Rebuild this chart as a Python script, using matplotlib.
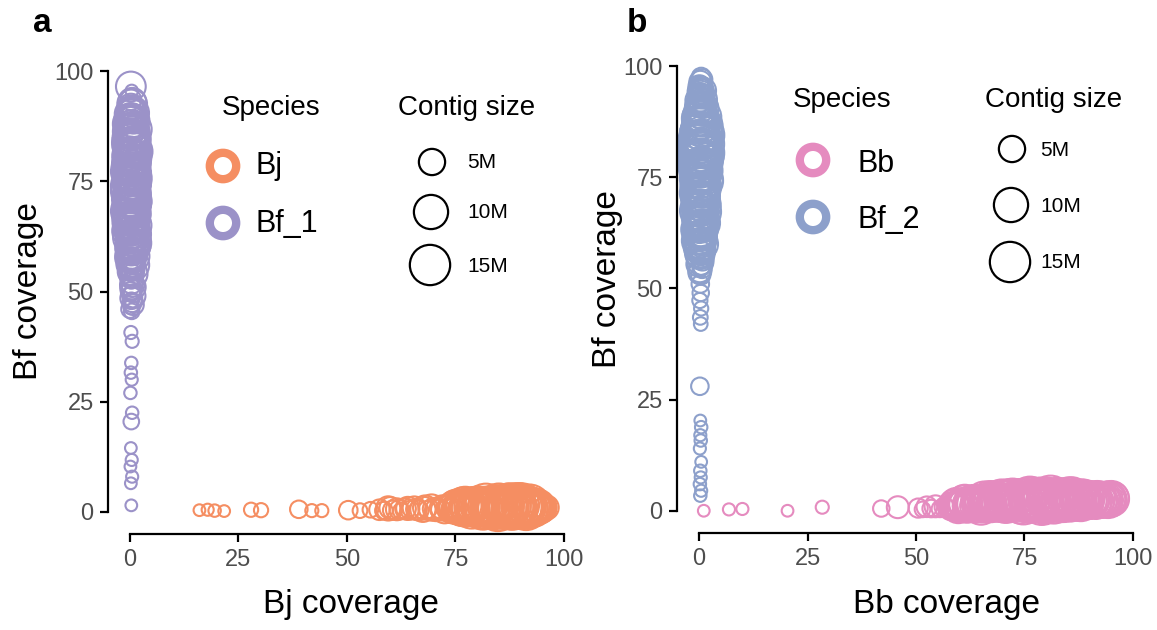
import numpy as np
import matplotlib.pyplot as plt

plt.rcParams['font.family'] = ['Liberation Sans', 'DejaVu Sans']

# ---- panel a: Bj vs Bf_1 -------------------------------------------------
# Bj contigs: x = Bj coverage, y = Bf coverage, size in Mb
bj_x = [16.0, 17.9, 19.5, 21.7, 27.9, 30.2, 38.9, 41.9, 44.2, 50.3, 53.0, 55.4,
        57.5, 58.5, 59.5, 60.5, 61.5, 62.5, 63.5, 64.5, 65.5, 66.5, 67.5, 68.5,
        69.5, 70.5, 71.5, 72.5, 73.5, 74.5, 75.5, 76.5, 77.5, 78.5, 79.5, 80.5,
        81.5, 82.5, 83.5, 84.5, 85.5, 86.5, 87.5, 88.5, 89.5, 90.5, 91.5, 92.5,
        93.5, 94.5, 95.5,
        60, 62, 64, 66, 68, 70, 72, 74, 76, 77, 78, 79, 80, 81, 82, 83, 84, 85,
        86, 87, 88, 89, 90, 91, 92, 93, 94, 95, 96]
bj_y = [0.4, 0.5, 0.3, 0.2, 0.5, 0.4, 0.6, 0.3, 0.3, 0.4, 0.3, 0.5,
        0.5, 0.3, 0.8, 0.4, 0.6, 0.2, 0.7, 0.4, 0.9, 0.3, 0.6, 0.5,
        1.0, 0.4, 0.7, 0.5, 0.8, 0.3, 1.0, 0.6, 1.2, 0.5, 0.9, 1.3,
        0.7, 1.1, 0.6, 1.4, 0.8, 1.2, 0.5, 1.5, 0.9, 1.3, 0.7, 1.1,
        0.6, 1.0, 0.8,
        0.9, 0.5, 0.8, 0.6, 1.0, 0.7, 0.9, 0.8, 1.3, 0.9, 1.5, 0.7, 1.2, 0.8, 1.6, 1.0, 0.6, 1.4,
        0.9, 1.7, 1.1, 0.7, 1.5, 1.0, 1.3, 0.8, 1.2, 0.9, 1.0]
bj_size = [0.3, 0.35, 0.4, 0.3, 0.7, 0.7, 1.5, 0.5, 0.5, 1.8, 0.8, 1.0,
           2.5, 1.5, 4.0, 2.0, 3.0, 1.2, 2.5, 1.8, 3.5, 2.2, 4.5, 1.5,
           5.0, 3.0, 2.0, 5.5, 2.5, 4.0, 8.0, 6.0, 10, 7.0, 12, 9.0,
           14, 8.0, 11, 15, 10, 17, 12, 18, 13, 16, 11, 14,
           8.0, 5.0, 3.0,
           3.0, 2.0, 3.5, 2.5, 4.0, 3.0, 4.5, 6.0, 9.0, 12, 11, 8.0, 15, 11, 17, 13, 12, 19,
           14, 16, 20, 15, 19, 16, 18, 12, 10, 6.0, 4.0]
# Bj contigs in the crowded high-coverage block
bj_core_x = [74.25, 75.25, 76.25, 77.25, 78.25, 79.25, 80.25, 81.25, 82.25, 83.25, 84.25,
             85.25, 86.25, 87.25, 88.25, 89.25, 90.25, 91.25, 92.25, 93.25, 94.25, 95.25,
             74.75, 75.75, 76.75, 77.75, 78.75, 79.75, 80.75, 81.75, 82.75, 83.75, 84.75,
             85.75, 86.75, 87.75, 88.75, 89.75, 90.75, 91.75, 92.75, 93.75, 94.75]
bj_core_y = [0.8, 1.2, 0.6, 1.4, 0.9, 1.1, 1.6, 0.7, 1.3, 1.0, 1.5,
             0.8, 1.2, 1.4, 0.9, 1.6, 1.1, 0.7, 1.3, 1.0, 0.8, 1.1,
             1.1, 0.7, 1.4, 1.0, 0.8, 1.5, 1.2, 0.9, 1.6, 1.1, 0.7,
             1.4, 1.0, 1.3, 0.8, 1.2, 1.5, 0.9, 1.1, 1.3, 0.9]
bj_core_size = [7, 10, 9, 13, 11, 14, 12, 16, 13, 17, 15,
                18, 14, 19, 16, 18, 15, 17, 13, 11, 8, 5,
                9, 8, 12, 10, 15, 12, 13, 17, 12, 16, 19,
                14, 17, 20, 15, 19, 16, 14, 12, 9, 7]

# Bf_1 contigs
bf1_x = [0.3, 0.2, 0.5, 0.1, 0.4, 0.2, 0.3, 0.5, 0.1, 0.4, 0.2, 0.3, 0.5, 0.2,
         0.4, 0.2, 0.5, 0.3, 0.6, 0.2, 0.5, 0.3, 0.4, 0.2, 0.6, 0.3, 0.5, 0.2,
         0.4, 0.6, 0.3, 0.5, 0.2, 0.4, 0.6, 0.3, 0.5, 0.2, 0.4, 0.6, 0.3, 0.5,
         0.2, 0.4, 0.6, 0.3, 0.5, 0.2, 0.4, 0.6, 0.3, 0.5, 0.2, 0.4, 0.6, 0.3,
         0.5, 0.2, 0.4, 0.6, 0.3, 0.5, 0.2, 0.4, 0.2,
         0.0, 0.8, 0.3, 0.9, 0.1, 0.7, 0.4, 0.0, 0.8, 0.2, 0.9, 0.1, 0.7, 0.3, 0.0, 0.8,
         0.2, 0.9, 0.1, 0.7, 0.4, 0.0, 0.8, 0.3, 0.9, 0.1, 0.7, 0.2, 0.0, 0.8, 0.3, 0.9,
         0.1, 0.7, 0.4, 0.0, 0.8, 0.2, 0.9, 0.1, 0.7, 0.3, 0.0, 0.8, 0.4, 0.6, 0.2, 0.5]
bf1_y = [1.5, 6.5, 8.0, 10.3, 11.8, 14.5, 20.5, 22.5, 27.0, 30.0, 31.6, 33.8, 38.7, 40.7,
         45.5, 46.5, 47.5, 48.5, 49.5, 50.5, 51.5, 52.5, 53.5, 54.5, 55.5, 56.5, 57.5, 58.5,
         59.5, 60.5, 61.5, 62.5, 63.5, 64.5, 65.5, 66.5, 67.5, 68.5, 69.5, 70.5, 71.5, 72.5,
         73.5, 74.5, 75.5, 76.5, 77.5, 78.5, 79.5, 80.5, 81.5, 82.5, 83.5, 84.5, 85.5, 86.5,
         87.5, 88.5, 89.5, 90.5, 91.5, 92.5, 93.5, 95.5, 96.5,
         46, 47, 48, 49, 50, 51, 52, 53, 54, 55, 56, 57, 58, 59, 60, 61,
         62, 63, 64, 65, 66, 67, 68, 69, 70, 71, 72, 73, 74, 75, 76, 77,
         78, 79, 80, 81, 82, 83, 84, 85, 86, 87, 88, 89, 90, 91, 92, 93]
bf1_size = [0.3, 0.3, 0.35, 0.3, 0.35, 0.3, 1.0, 0.4, 0.4, 0.35, 0.4, 0.4, 0.5, 0.5,
            1.0, 0.8, 2.0, 3.0, 1.5, 2.5, 4.0, 1.2, 3.5, 5.0, 2.0, 6.0, 3.0, 7.0,
            4.5, 9.0, 2.5, 8.0, 5.0, 11, 3.5, 9.5, 6.0, 12, 4.0, 13, 7.0, 12,
            5.5, 13, 9.0, 12, 6.5, 13, 8.0, 11, 4.5, 12, 7.5, 13, 5.0, 11,
            8.5, 10, 6.0, 9.0, 4.0, 7.0, 2.5, 0.4, 7.0,
            1.5, 2.5, 1.0, 3.5, 2.0, 4.5, 3.0, 2.0, 6.0, 3.5, 7.5, 4.0, 9.0, 5.5, 6.5, 11,
            7.0, 10, 6.0, 12, 8.0, 11, 9.0, 13, 10, 12, 11, 9.5, 13, 11, 12, 10,
            12, 11, 13, 9.0, 11, 12, 8.0, 11, 9.5, 7.0, 10, 6.0, 8.0, 5.5, 4.5, 6.0]
bf1_core_x = [0.6, 0.1, 0.8, 0.3, 0.0, 0.9, 0.5, 0.2, 0.7, 0.1, 0.6, 0.3, 0.9, 0.0, 0.5, 0.8, 0.2, 0.6, 0.1,
              0.7, 0.4, 0.9, 0.0, 0.6, 0.3, 0.8, 0.1, 0.5, 0.9, 0.2, 0.7, 0.0, 0.6, 0.3, 0.8, 0.1, 0.5,
              0.2, 0.7, 0.0, 0.9, 0.4, 0.1, 0.8, 0.5, 0.0, 0.6, 0.2, 0.9, 0.4, 0.7, 0.1, 0.5, 0.8, 0.0, 0.6,
              0.3, 0.9, 0.2, 0.7, 0.1, 0.5, 0.0, 0.8, 0.4, 0.1, 0.6, 0.3, 0.9, 0.2, 0.7, 0.0, 0.5, 0.3]
bf1_core_y = [55.25, 56.25, 57.25, 58.25, 59.25, 60.25, 61.25, 62.25, 63.25, 64.25, 65.25, 66.25,
              67.25, 68.25, 69.25, 70.25, 71.25, 72.25, 73.25, 74.25, 75.25, 76.25, 77.25, 78.25,
              79.25, 80.25, 81.25, 82.25, 83.25, 84.25, 85.25, 86.25, 87.25, 88.25, 89.25, 90.25, 91.25,
              55.75, 56.75, 57.75, 58.75, 59.75, 60.75, 61.75, 62.75, 63.75, 64.75, 65.75, 66.75,
              67.75, 68.75, 69.75, 70.75, 71.75, 72.75, 73.75, 74.75, 75.75, 76.75, 77.75, 78.75,
              79.75, 80.75, 81.75, 82.75, 83.75, 84.75, 85.75, 86.75, 87.75, 88.75, 89.75, 90.75, 91.75]
bf1_core_size = [4, 6, 3, 8, 5, 9, 6, 11, 7, 10, 8, 12, 9, 13, 10, 11, 12, 9, 13,
                 11, 12, 10, 13, 9, 12, 11, 10, 12, 8, 11, 9, 10, 7, 9, 6, 8, 5,
                 5, 3, 7, 4, 9, 6, 10, 5, 11, 8, 12, 7, 13, 9, 11, 12, 10, 13, 8,
                 12, 11, 13, 9, 12, 10, 11, 13, 9, 12, 10, 8, 11, 7, 9, 5, 7, 4]

# ---- panel b: Bb vs Bf_2 -------------------------------------------------
bb_x = [1.1, 6.9, 10.0, 20.4, 28.4, 42.0, 45.8,
        50.5, 51.5, 52.5, 53.5, 54.5, 55.5, 56.5, 57.5, 58.5, 59.5, 60.5, 61.5,
        62.5, 63.5, 64.5, 65.5, 66.5, 67.5, 68.5, 69.5, 70.5, 71.5, 72.5, 73.5,
        74.5, 75.5, 76.5, 77.5, 78.5, 79.5, 80.5, 81.5, 82.5, 83.5, 84.5, 85.5,
        86.5, 87.5, 88.5, 89.5, 90.5, 91.5, 92.5, 93.5, 94.5, 95.5,
        59, 60, 61, 62, 63, 64, 65, 66, 67, 68, 69, 70, 71, 72, 73, 74, 75, 76, 77,
        78, 79, 80, 81, 82, 83, 84, 85, 86, 87, 88, 89, 90, 91, 92, 93, 94, 95]
bb_y = [0.0, 0.3, 0.4, 0.0, 0.8, 0.5, 0.8,
        0.6, 0.3, 0.9, 0.5, 1.0, 0.4, 0.8, 0.5, 1.2, 1.0, 1.5, 0.8,
        1.8, 1.1, 1.6, 0.9, 2.0, 1.2, 1.7, 1.0, 1.9, 1.3, 2.2, 1.4,
        1.8, 1.1, 2.3, 1.5, 2.0, 1.2, 2.4, 1.6, 2.1, 1.3, 2.5, 1.7,
        2.2, 1.4, 2.0, 1.6, 2.3, 1.5, 2.1, 1.8, 2.6, 2.0,
        1.3, 0.8, 2.0, 1.2, 1.5, 2.2, 1.0, 1.7, 2.4, 1.4, 2.0, 1.1, 2.5, 1.6, 2.2, 1.3, 2.6, 1.5, 2.1,
        2.8, 1.7, 2.3, 2.9, 1.8, 2.5, 1.6, 2.8, 2.0, 2.4, 1.8, 2.6, 2.0, 2.5, 1.9, 2.4, 2.2, 2.7]
bb_size = [0.3, 0.35, 0.35, 0.3, 0.5, 1.2, 3.0,
           2.0, 1.0, 2.5, 1.5, 3.0, 1.2, 2.0, 1.5, 4.0, 6.0, 8.0, 5.0,
           9.0, 6.5, 10, 7.0, 11, 6.0, 9.0, 7.5, 12, 8.0, 10, 7.0,
           11, 9.0, 13, 10, 15, 12, 16, 11, 14, 10, 15, 12,
           13, 9.0, 11, 8.0, 10, 7.0, 9.0, 6.0, 8.5, 5.0,
           5.0, 7.0, 9.0, 6.0, 11, 8.0, 12, 9.0, 13, 10, 14, 9.0, 15, 11, 14, 12, 16, 10, 17,
           13, 18, 14, 19, 13, 17, 12, 16, 11, 15, 12, 13, 10, 12, 8.0, 10, 7.0, 11]
bb_core_x = [58.25, 59.25, 60.25, 61.25, 62.25, 63.25, 64.25, 65.25, 66.25, 67.25, 68.25, 69.25, 70.25,
             71.25, 72.25, 73.25, 74.25, 75.25, 76.25, 77.25, 78.25, 79.25, 80.25, 81.25, 82.25, 83.25,
             84.25, 85.25, 86.25, 87.25, 88.25, 89.25, 90.25, 91.25, 92.25, 93.25, 94.25, 95.25,
             58.75, 59.75, 60.75, 61.75, 62.75, 63.75, 64.75, 65.75, 66.75, 67.75, 68.75, 69.75, 70.75,
             71.75, 72.75, 73.75, 74.75, 75.75, 76.75, 77.75, 78.75, 79.75, 80.75, 81.75, 82.75, 83.75,
             84.75, 85.75, 86.75, 87.75, 88.75, 89.75, 90.75, 91.75, 92.75, 93.75, 94.75]
bb_core_y = [1.0, 1.6, 1.2, 2.0, 1.4, 1.8, 2.3, 1.5, 2.1, 1.7, 2.6, 1.9, 2.2,
             1.6, 2.7, 2.0, 2.4, 1.8, 2.9, 2.2, 2.5, 2.0, 2.8, 2.3, 2.6, 1.9,
             2.7, 2.1, 2.5, 2.2, 2.8, 2.0, 2.4, 2.1, 2.6, 2.3, 2.5, 2.8,
             1.4, 0.9, 1.8, 1.3, 2.1, 1.5, 1.9, 2.3, 1.6, 2.2, 1.8, 2.5, 1.4,
             2.4, 2.0, 2.7, 1.7, 2.3, 2.6, 2.0, 2.8, 2.2, 2.5, 1.9, 2.7, 2.1,
             2.4, 2.9, 2.2, 2.6, 2.0, 2.5, 2.3, 2.7, 2.1, 2.4, 2.6]
bb_core_size = [6, 8, 7, 10, 9, 11, 8, 12, 10, 13, 11, 12, 14,
                10, 15, 12, 16, 13, 17, 14, 18, 15, 16, 13, 17, 14,
                15, 12, 14, 11, 13, 10, 12, 9, 11, 10, 12, 9,
                7, 9, 6, 11, 8, 12, 10, 13, 9, 14, 11, 15, 12,
                16, 13, 14, 17, 12, 18, 15, 16, 19, 14, 17, 13, 15,
                12, 16, 11, 13, 10, 12, 9, 11, 8, 10, 9]

bf2_x = [0.3, 0.5, 0.2, 0.4, 0.3, 0.5, 0.2, 0.4, 0.3, 0.5, 0.3, 0.2, 0.4, 0.3, 0.5, 0.2, 0.4, 0.3,
         0.4, 0.2, 0.6, 0.3, 0.5, 0.2, 0.4, 0.6, 0.3, 0.5, 0.2, 0.4, 0.6, 0.3, 0.5,
         0.2, 0.4, 0.6, 0.3, 0.5, 0.2, 0.4, 0.6, 0.3, 0.5, 0.2, 0.4, 0.6, 0.3, 0.5,
         0.2, 0.4, 0.6, 0.3, 0.5, 0.2, 0.4, 0.6, 0.3, 0.5, 0.2, 0.4, 0.6, 0.3, 0.5,
         0.1, 0.7, 0.0, 0.8, 0.2, 0.9, 0.1, 0.7, 0.0, 0.8, 0.3, 0.9, 0.1, 0.7, 0.0,
         0.8, 0.2, 0.9, 0.1, 0.7, 0.0, 0.8, 0.3, 0.9, 0.1, 0.7, 0.0, 0.8, 0.2, 0.9,
         0.1, 0.7, 0.0, 0.8, 0.3, 0.9, 0.1, 0.7, 0.0, 0.8, 0.2, 0.9, 0.1, 0.7]
bf2_y = [3.4, 4.5, 6.0, 7.5, 9.0, 11.0, 14.0, 15.8, 17.0, 18.8, 20.3, 28.0, 42.0, 43.5, 45.5, 47.3, 49.0, 51.0,
         53, 54, 55, 56, 57, 58, 59, 60, 61, 62, 63, 64, 65, 66, 67,
         68, 69, 70, 71, 72, 73, 74, 75, 76, 77, 78, 79, 80, 81, 82,
         83, 84, 85, 86, 87, 88, 89, 90, 91, 92, 93, 94, 95, 96.5, 97.5,
         53.5, 54.5, 55.5, 56.5, 57.5, 58.5, 59.5, 60.5, 61.5, 62.5, 63.5, 64.5, 65.5, 66.5, 67.5,
         68.5, 69.5, 70.5, 71.5, 72.5, 73.5, 74.5, 75.5, 76.5, 77.5, 78.5, 79.5, 80.5, 81.5, 82.5,
         83.5, 84.5, 85.5, 86.5, 87.5, 88.5, 89.5, 90.5, 91.5, 92.5, 93.5, 94.5, 95.5, 97.0]
bf2_size = [0.4, 0.35, 0.4, 0.35, 0.4, 0.3, 0.35, 0.4, 0.35, 0.4, 0.3, 1.5, 0.6, 0.8, 0.7, 0.9, 1.2, 1.5,
            2.0, 3.5, 1.5, 5.0, 2.5, 7.0, 4.0, 9.0, 3.0, 6.5, 10, 4.5, 8.0, 12, 5.0,
            9.5, 6.0, 11, 3.5, 8.5, 13, 5.5, 10, 7.0, 12, 4.0, 14, 9.0, 16, 6.0,
            18, 11, 17, 8.0, 13, 5.0, 9.0, 6.5, 3.0, 5.0, 2.5, 4.0, 2.0, 3.0, 2.0,
            3.0, 2.0, 4.5, 3.0, 6.0, 4.0, 7.5, 5.0, 9.0, 6.0, 11, 7.0, 10, 8.0, 13,
            7.5, 12, 9.0, 14, 10, 12, 15, 9.0, 14, 11, 16, 12, 18, 13, 17,
            14, 19, 12, 15, 10, 12, 7.0, 9.0, 5.0, 6.5, 4.0, 5.0, 3.0, 2.5]
bf2_core_x = [0.5, 0.1, 0.8, 0.3, 0.6, 0.0, 0.9, 0.4, 0.2, 0.7, 0.0, 0.5, 0.8, 0.3, 0.1, 0.6, 0.9, 0.2, 0.4,
              0.7, 0.0, 0.5, 0.3, 0.8, 0.1, 0.6, 0.9, 0.2, 0.4, 0.7, 0.0, 0.5, 0.3, 0.8, 0.1, 0.6, 0.4, 0.2,
              0.2, 0.7, 0.0, 0.9, 0.4, 0.1, 0.6, 0.8, 0.3, 0.0, 0.5, 0.9, 0.2, 0.6, 0.4, 0.8, 0.1, 0.7, 0.3,
              0.5, 0.0, 0.9, 0.2, 0.6, 0.4, 0.8, 0.1, 0.7, 0.3, 0.5, 0.0, 0.9, 0.2, 0.6, 0.4, 0.1, 0.5]
bf2_core_y = [58.25, 59.25, 60.25, 61.25, 62.25, 63.25, 64.25, 65.25, 66.25, 67.25, 68.25, 69.25, 70.25,
              71.25, 72.25, 73.25, 74.25, 75.25, 76.25, 77.25, 78.25, 79.25, 80.25, 81.25, 82.25, 83.25,
              84.25, 85.25, 86.25, 87.25, 88.25, 89.25, 90.25, 91.25, 92.25, 93.25, 94.25, 95.25,
              58.75, 59.75, 60.75, 61.75, 62.75, 63.75, 64.75, 65.75, 66.75, 67.75, 68.75, 69.75, 70.75,
              71.75, 72.75, 73.75, 74.75, 75.75, 76.75, 77.75, 78.75, 79.75, 80.75, 81.75, 82.75, 83.75,
              84.75, 85.75, 86.75, 87.75, 88.75, 89.75, 90.75, 91.75, 92.75, 93.75, 94.75]
bf2_core_size = [5, 8, 4, 9, 6, 11, 7, 10, 8, 13, 9, 12, 10,
                 14, 11, 13, 15, 12, 16, 13, 17, 14, 18, 12, 16, 13,
                 15, 11, 13, 9, 10, 7, 8, 5, 6, 4, 5, 3,
                 7, 4, 10, 6, 9, 8, 12, 7, 11, 10, 14, 9, 13,
                 12, 15, 10, 14, 13, 17, 12, 15, 16, 19, 13, 15, 12,
                 14, 10, 12, 8, 9, 6, 7, 4, 5, 3, 4]

legend_sizes = [5, 10, 15]
legend_size_labels = ['5M', '10M', '15M']

col_bj = '#F58E62'
col_bf1 = '#9B92C8'
col_bb = '#E58BBF'
col_bf2 = '#8DA0CB'


def contig_area(size_mb):
    # circle diameter grows with sqrt of contig size (pixels -> points^2)
    diam_px = 7 + 8.6 * np.sqrt(np.asarray(size_mb, dtype=float))
    return (diam_px * 72 / 100) ** 2


def plot_contigs(ax, xs, ys, sizes, color):
    ax.scatter(np.concatenate(xs), np.concatenate(ys),
               s=contig_area(np.concatenate(sizes)), facecolors='none',
               edgecolors=color, linewidths=1.5, clip_on=False)


def style_axis(ax, xlabel, ylabel, xlab_pos, ylab_pos):
    ax.set_xlim(-5, 105)
    ax.set_ylim(-5, 105)
    ax.patch.set_visible(False)
    for side in ['top', 'right']:
        ax.spines[side].set_visible(False)
    for side in ['left', 'bottom']:
        ax.spines[side].set_linewidth(1.6)
        ax.spines[side].set_bounds(0, 100)
    ticks = [0, 25, 50, 75, 100]
    ax.set_xticks(ticks)
    ax.set_yticks(ticks)
    ax.tick_params(length=5.5, width=1.6, labelsize=17, labelcolor='#4D4D4D', pad=5)
    ax.set_xlabel(xlabel, fontsize=24, va='center')
    ax.set_ylabel(ylabel, fontsize=24, va='center')
    ax.xaxis.set_label_coords(*xlab_pos)
    ax.yaxis.set_label_coords(*ylab_pos)


fig = plt.figure(figsize=(11.57, 6.3), dpi=100)
ax_a = fig.add_axes([0.0936, 0.1524, 0.4126, 0.7698])
ax_b = fig.add_axes([0.5854, 0.1540, 0.4126, 0.7762])

plot_contigs(ax_a, [bj_x, bj_core_x], [bj_y, bj_core_y], [bj_size, bj_core_size], col_bj)
plot_contigs(ax_a, [bf1_x, bf1_core_x], [bf1_y, bf1_core_y], [bf1_size, bf1_core_size], col_bf1)
plot_contigs(ax_b, [bf2_x, bf2_core_x], [bf2_y, bf2_core_y], [bf2_size, bf2_core_size], col_bf2)
plot_contigs(ax_b, [bb_x, bb_core_x], [bb_y, bb_core_y], [bb_size, bb_core_size], col_bb)

style_axis(ax_a, 'Bj coverage', 'Bf coverage', (0.508, -0.146), (-0.168, 0.5))
style_axis(ax_b, 'Bb coverage', 'Bf coverage', (0.563, -0.146), (-0.147, 0.52))

# overlay in pixel units for panel letters and legends
ov = fig.add_axes([0, 0, 1, 1], zorder=5)
ov.set_xlim(0, 1157)
ov.set_ylim(630, 0)
ov.axis('off')

ov.text(33, 32, 'a', fontsize=24, fontweight='bold', va='baseline')
ov.text(627, 32, 'b', fontsize=24, fontweight='bold', va='baseline')


def draw_legend(sp_x, sp_base, names, colors, key_x, key_y, lab_x, lab_base,
                cs_x, circ_x, circ_y, size_lab_x):
    ov.text(sp_x, sp_base, 'Species', fontsize=20, va='baseline')
    ov.scatter(key_x, key_y, s=19 ** 2, facecolors='none', edgecolors=colors,
               linewidths=6)
    for name, lb in zip(names, lab_base):
        ov.text(lab_x, lb, name, fontsize=22, va='baseline')
    ov.text(cs_x, sp_base, 'Contig size', fontsize=20, va='baseline')
    ov.scatter(circ_x, circ_y, s=contig_area(legend_sizes), facecolors='none',
               edgecolors='black', linewidths=1.6)
    for lab, cy in zip(legend_size_labels, circ_y):
        ov.text(size_lab_x, cy + 1, lab, fontsize=15, va='center')


draw_legend(222, 115, ['Bj', 'Bf_1'], [col_bj, col_bf1], [223, 223], [166, 223],
            256, [174, 232], 398, [432, 431, 430], [162, 212, 265], 467)
draw_legend(793, 107, ['Bb', 'Bf_2'], [col_bb, col_bf2], [813, 813], [160, 217],
            858, [172, 228], 985, [1012, 1011, 1010], [149, 205, 262], 1040)

fig.savefig('out.png', dpi=100)
